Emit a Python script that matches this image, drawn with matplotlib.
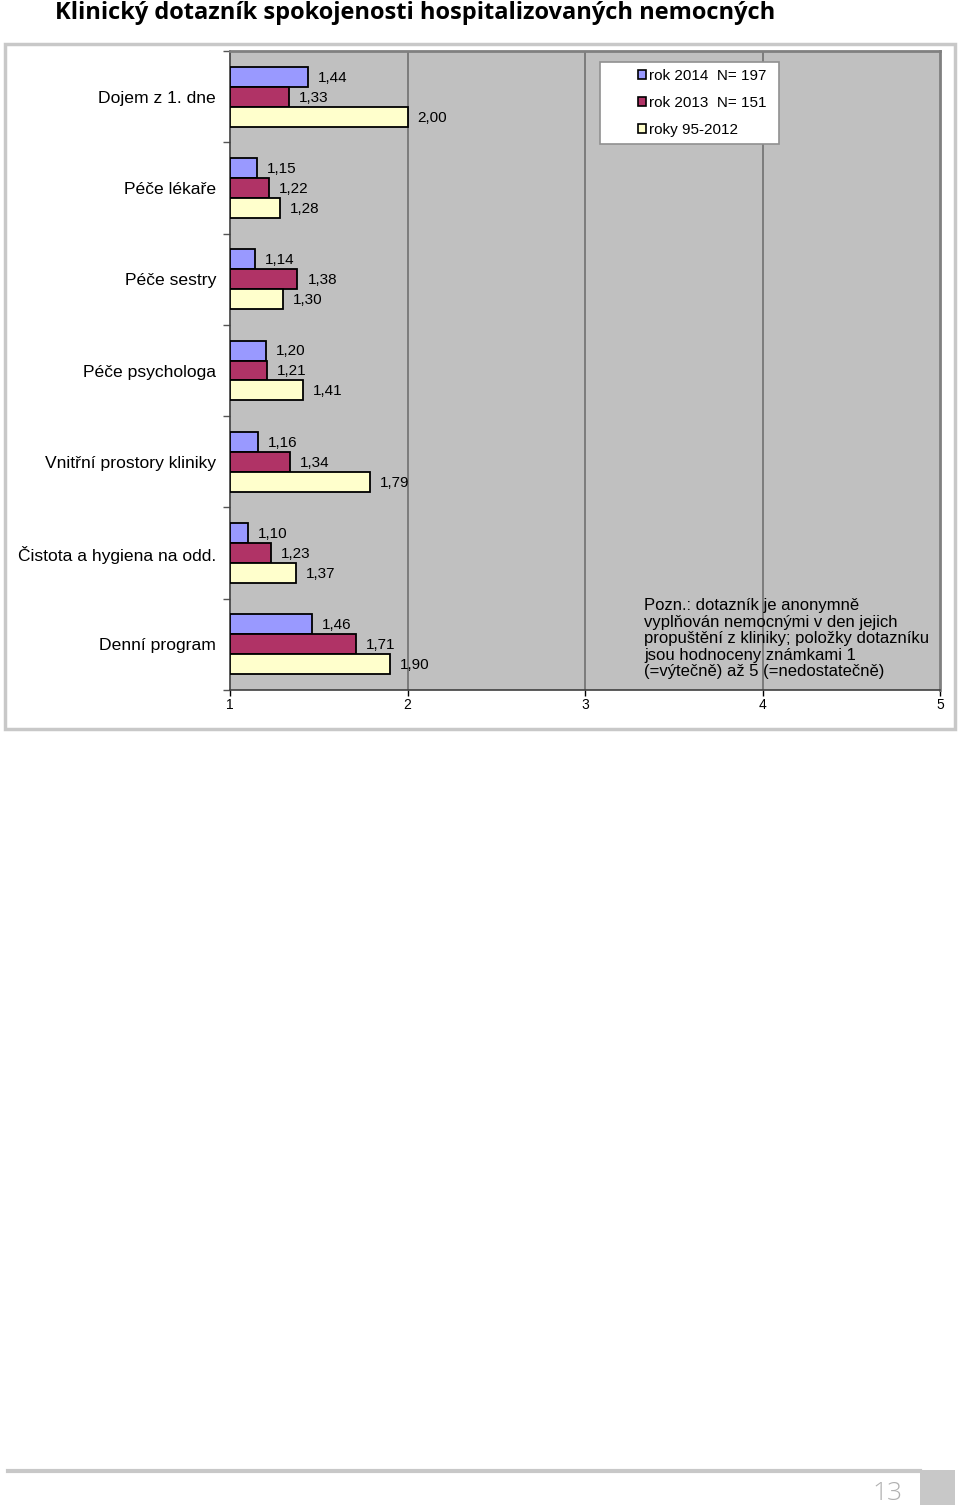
import matplotlib
matplotlib.use("Agg")
import matplotlib.pyplot as plt
from matplotlib.patches import Rectangle, Patch
import numpy as np

categories = ["Dojem z 1. dne", "Péče lékaře", "Péče sestry", "Péče psychologa",
              "Vnitřní prostory kliniky", "Čistota a hygiena na odd.", "Denní program"]
rok2014 = [1.44, 1.15, 1.14, 1.20, 1.16, 1.10, 1.46]
rok2013 = [1.33, 1.22, 1.38, 1.21, 1.34, 1.23, 1.71]
roky95_2012 = [2.00, 1.28, 1.30, 1.41, 1.79, 1.37, 1.90]
series_labels = ["rok 2014  N= 197", "rok 2013  N= 151", "roky 95-2012"]
xticks = [1, 2, 3, 4, 5]

colors = ["#9999FF", "#B03366", "#FFFFCC"]
plt.rcParams['font.family'] = ['Liberation Sans', 'DejaVu Sans']

W, H = 960, 1509
fig = plt.figure(figsize=(W / 100, H / 100), dpi=100)

def fx(px):
    return px / W

def fy(py):
    return 1 - py / H

# Title
fig.text(fx(55), fy(13), "Klinický dotazník spokojenosti hospitalizovaných nemocných",
         fontsize=17.0, fontweight='bold', ha='left', va='center',
         family=['Open Sans', 'DejaVu Sans'], color='black')

# outer chart box
fig.patches.append(Rectangle((fx(5), fy(729)), fx(950), (729 - 44) / H,
                             transform=fig.transFigure, facecolor='white',
                             edgecolor='#C8C8C8', linewidth=2.5, zorder=0.5))

ax = fig.add_axes([fx(230), fy(690), fx(710), (690 - 51) / H])
ax.set_zorder(2)
ax.set_facecolor('#C0C0C0')
n = len(categories)
h = 0.219
y = np.arange(n)
data = [rok2014, rok2013, roky95_2012]
for k, (vals, c) in enumerate(zip(data, colors)):
    pos = y + (k - 1) * h
    widths = np.array(vals) - 1
    ax.barh(pos, widths, left=1, height=h, color=c, edgecolor='black',
            linewidth=1.3, zorder=3)
    for p, v in zip(pos, vals):
        ax.text(v + 0.056, p + 0.01, f"{v:.2f}".replace('.', ','), va='center',
                ha='left', fontsize=11, zorder=4)

ax.set_xlim(1, 5)
ax.set_ylim(n - 0.5, -0.5)
ax.set_xticks(xticks)
ax.set_xticklabels([str(t) for t in xticks], fontsize=10)
ax.tick_params(axis='x', length=4, width=1, pad=2, direction='out')
ax.set_yticks(np.arange(n + 1) - 0.5, minor=True)
ax.set_yticks(y)
ax.set_yticklabels(categories, fontsize=12.6)
ax.tick_params(axis='y', which='major', length=0, pad=10)
ax.tick_params(axis='y', which='minor', length=5, width=1, color='#555555')
for xv in [2, 3, 4]:
    ax.axvline(xv, color='#707070', linewidth=1.2, zorder=1)
for side in ['left', 'bottom']:
    ax.spines[side].set_color('#404040')
    ax.spines[side].set_linewidth(1.2)
for side in ['top', 'right']:
    ax.spines[side].set_color('#808080')
    ax.spines[side].set_linewidth(2)

# legend frame
ax.add_patch(Rectangle((fx(600), fy(144)), fx(179), (144 - 62) / H,
                       transform=fig.transFigure, facecolor='white',
                       edgecolor='#909090', linewidth=1.2, zorder=5))
handles = [Patch(facecolor=c, edgecolor='black', linewidth=1.2) for c in colors]
leg = ax.legend(handles, series_labels, loc='upper left',
                bbox_to_anchor=(fx(638), fy(69)), bbox_transform=fig.transFigure,
                fontsize=11, frameon=False, handlelength=0.55, handleheight=0.55,
                handletextpad=0.2, labelspacing=0.86, borderpad=0,
                borderaxespad=0)
leg.set_zorder(6)

note = ("Pozn.: dotazník je anonymně\nvyplňován nemocnými v den jejich\n"
        "propuštění z kliniky; položky dotazníku\njsou hodnoceny známkami 1\n"
        "(=výtečně) až 5 (=nedostatečně)")
ax.text(fx(644), fy(598), note, fontsize=12, ha='left', va='top',
        linespacing=1.13, color='black', zorder=6, transform=fig.transFigure)

# footer
fig.add_artist(plt.Line2D([fx(8), fx(920)], [fy(1471), fy(1471)],
                          transform=fig.transFigure, color='#C8C8C8', linewidth=3))
fig.patches.append(Rectangle((fx(920), fy(1505)), fx(35), (1505 - 1470) / H,
                             transform=fig.transFigure, facecolor='#C8C8C8',
                             edgecolor='none'))
fig.text(fx(903), fy(1493), "13", fontsize=19, ha='right', va='center',
         color='#B0B0B0', family=['Open Sans', 'DejaVu Sans'], fontweight='light')

fig.savefig("out.png", dpi=100)
